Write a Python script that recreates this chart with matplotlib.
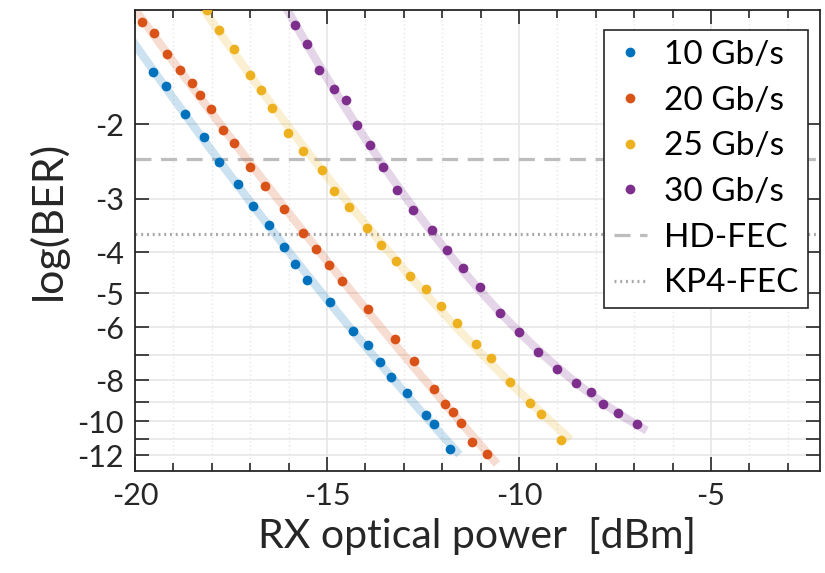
import matplotlib
matplotlib.use("Agg")
import matplotlib.pyplot as plt
import numpy as np
from matplotlib.lines import Line2D
from matplotlib.ticker import FixedLocator, FuncFormatter, MultipleLocator

plt.rcParams['font.family'] = ['Lato', 'DejaVu Sans']

# RX optical power [dBm] and measured log10(BER) per line rate
x_10 = [-19.52, -19.20, -18.71, -18.20, -17.81, -17.32, -16.92, -16.50, -16.12, -15.82,
        -15.53, -14.92, -14.32, -13.92, -13.62, -13.32, -12.92, -12.41, -12.22, -11.80]
ber_10 = [-1.51, -1.63, -1.89, -2.15, -2.46, -2.76, -3.11, -3.46, -3.90, -4.27,
          -4.65, -5.23, -6.14, -6.63, -7.25, -7.87, -8.59, -9.68, -10.16, -11.64]

x_20 = [-19.82, -19.51, -19.16, -18.82, -18.52, -18.31, -18.02, -17.71, -17.41, -17.01,
        -16.61, -16.12, -15.63, -15.29, -14.95, -14.62, -13.92, -13.22, -12.72, -12.22,
        -11.92, -11.72, -11.52, -11.22, -10.82]
ber_20 = [-1.15, -1.22, -1.37, -1.49, -1.60, -1.71, -1.84, -2.07, -2.22, -2.52,
          -2.80, -3.16, -3.60, -3.93, -4.29, -4.68, -5.44, -6.40, -7.23, -8.38,
          -9.10, -9.52, -10.09, -11.18, -11.91]

x_25 = [-18.12, -17.82, -17.41, -17.01, -16.71, -16.42, -16.01, -15.62, -15.12, -14.81,
        -14.42, -13.95, -13.59, -13.20, -12.84, -12.41, -12.02, -11.62, -11.11, -10.72,
        -10.22, -9.71, -9.42, -8.91]
ber_25 = [-1.08, -1.20, -1.33, -1.53, -1.66, -1.83, -2.10, -2.32, -2.56, -2.88,
          -3.13, -3.51, -3.85, -4.20, -4.55, -4.89, -5.35, -5.87, -6.58, -7.09,
          -8.10, -9.04, -9.59, -11.04]

x_30 = [-15.82, -15.51, -15.22, -14.81, -14.51, -14.22, -13.88, -13.54, -13.18, -12.76,
        -12.27, -11.88, -11.46, -11.02, -10.49, -10.00, -9.51, -9.01, -8.52, -8.12,
        -7.81, -7.41, -6.92]
ber_30 = [-1.17, -1.30, -1.49, -1.65, -1.76, -2.01, -2.24, -2.52, -2.86, -3.19,
          -3.55, -3.96, -4.36, -4.84, -5.57, -6.17, -6.87, -7.53, -8.13, -8.52,
          -9.12, -9.54, -10.16]

labels = ['10 Gb/s', '20 Gb/s', '25 Gb/s', '30 Gb/s']
colors = ['#0072BD', '#D95319', '#EDB120', '#7E2F8E']

hd_fec = -2.42
kp4_fec = -3.62

ytick_vals = [-2, -3, -4, -5, -6, -7, -8, -9, -10, -11, -12]
ytick_shown = [-2, -3, -4, -5, -6, -8, -10, -12]


def fwd(y):
    y = np.asarray(y, dtype=float)
    return -np.log10(np.clip(-y, 1e-30, None))


def inv(t):
    return -10.0 ** (-np.asarray(t, dtype=float))


fig = plt.figure(figsize=(8.25, 5.73), dpi=100)
ax = fig.add_axes([0.1636, 0.1785, 0.8303, 0.804])
ax.set_yscale('function', functions=(fwd, inv))

series = [(x_10, ber_10), (x_20, ber_20), (x_25, ber_25), (x_30, ber_30)]
for (xs, ys), col in zip(series, colors):
    xs = np.array(xs)
    p = np.polyfit(xs, fwd(ys), 2)
    xf = np.linspace(xs[0] - 0.6, xs[-1] + 0.25, 200)
    ax.plot(xf, inv(np.polyval(p, xf)), color=col, lw=6, alpha=0.2,
            solid_capstyle='butt', zorder=2)
    ax.plot(xs, ys, 'o', color=col, ms=7, mec='none', zorder=3)

hd_style = dict(color='#bdbdbd', lw=2.3, ls=(0, (5, 3)))
kp4_style = dict(color='#a8a8a8', lw=2.3, ls=(0, (0.6, 1.2)))
ax.axhline(hd_fec, zorder=1, **hd_style)
ax.axhline(kp4_fec, zorder=1, **kp4_style)

ax.set_xlim(-20, -2.16)
ax.set_ylim(-13.06, -1.079)

ax.xaxis.set_major_locator(MultipleLocator(5))
ax.xaxis.set_minor_locator(MultipleLocator(1))
ax.yaxis.set_major_locator(FixedLocator(ytick_vals))
ax.yaxis.set_minor_locator(FixedLocator([]))
ax.yaxis.set_major_formatter(
    FuncFormatter(lambda v, pos: f'{v:g}' if round(v) in ytick_shown else ''))
ax.xaxis.set_major_formatter(FuncFormatter(lambda v, pos: f'{v:g}'))

ax.grid(True, which='major', color='#e6e6e6', lw=1.2, ls='-', zorder=0)
ax.grid(True, which='minor', axis='x', color='#e6e6e6', lw=1.0, ls=(0, (1, 2)), zorder=0)
ax.set_axisbelow(True)

ax.tick_params(which='both', direction='in', top=True, right=True,
               labelsize=22, colors='#262626', width=1.2)
ax.tick_params(which='major', length=10, pad=8)
ax.tick_params(which='minor', length=6)
for s in ax.spines.values():
    s.set_color('#262626')
    s.set_linewidth(1.3)

ax.set_xlabel('RX optical power  [dBm]', fontsize=29.5, color='#262626', labelpad=5)
ax.set_ylabel('log(BER)', fontsize=31, color='#262626')
ax.yaxis.set_label_coords(-0.098, 0.544)

handles = [Line2D([], [], ls='none', marker='o', color=c, ms=7, mec='none') for c in colors]
handles.append(Line2D([], [], **hd_style))
handles.append(Line2D([], [], **kp4_style))
leg = ax.legend(handles, labels + ['HD-FEC', 'KP4-FEC'], loc='upper right',
                bbox_to_anchor=(0.9825, 0.9566), borderaxespad=0, fontsize=24,
                fancybox=False, framealpha=1, edgecolor='#262626',
                handlelength=1.0, handletextpad=0.5, labelspacing=0.47,
                borderpad=0.3)
leg.get_frame().set_linewidth(1.2)

fig.savefig('out.png', dpi=100)
